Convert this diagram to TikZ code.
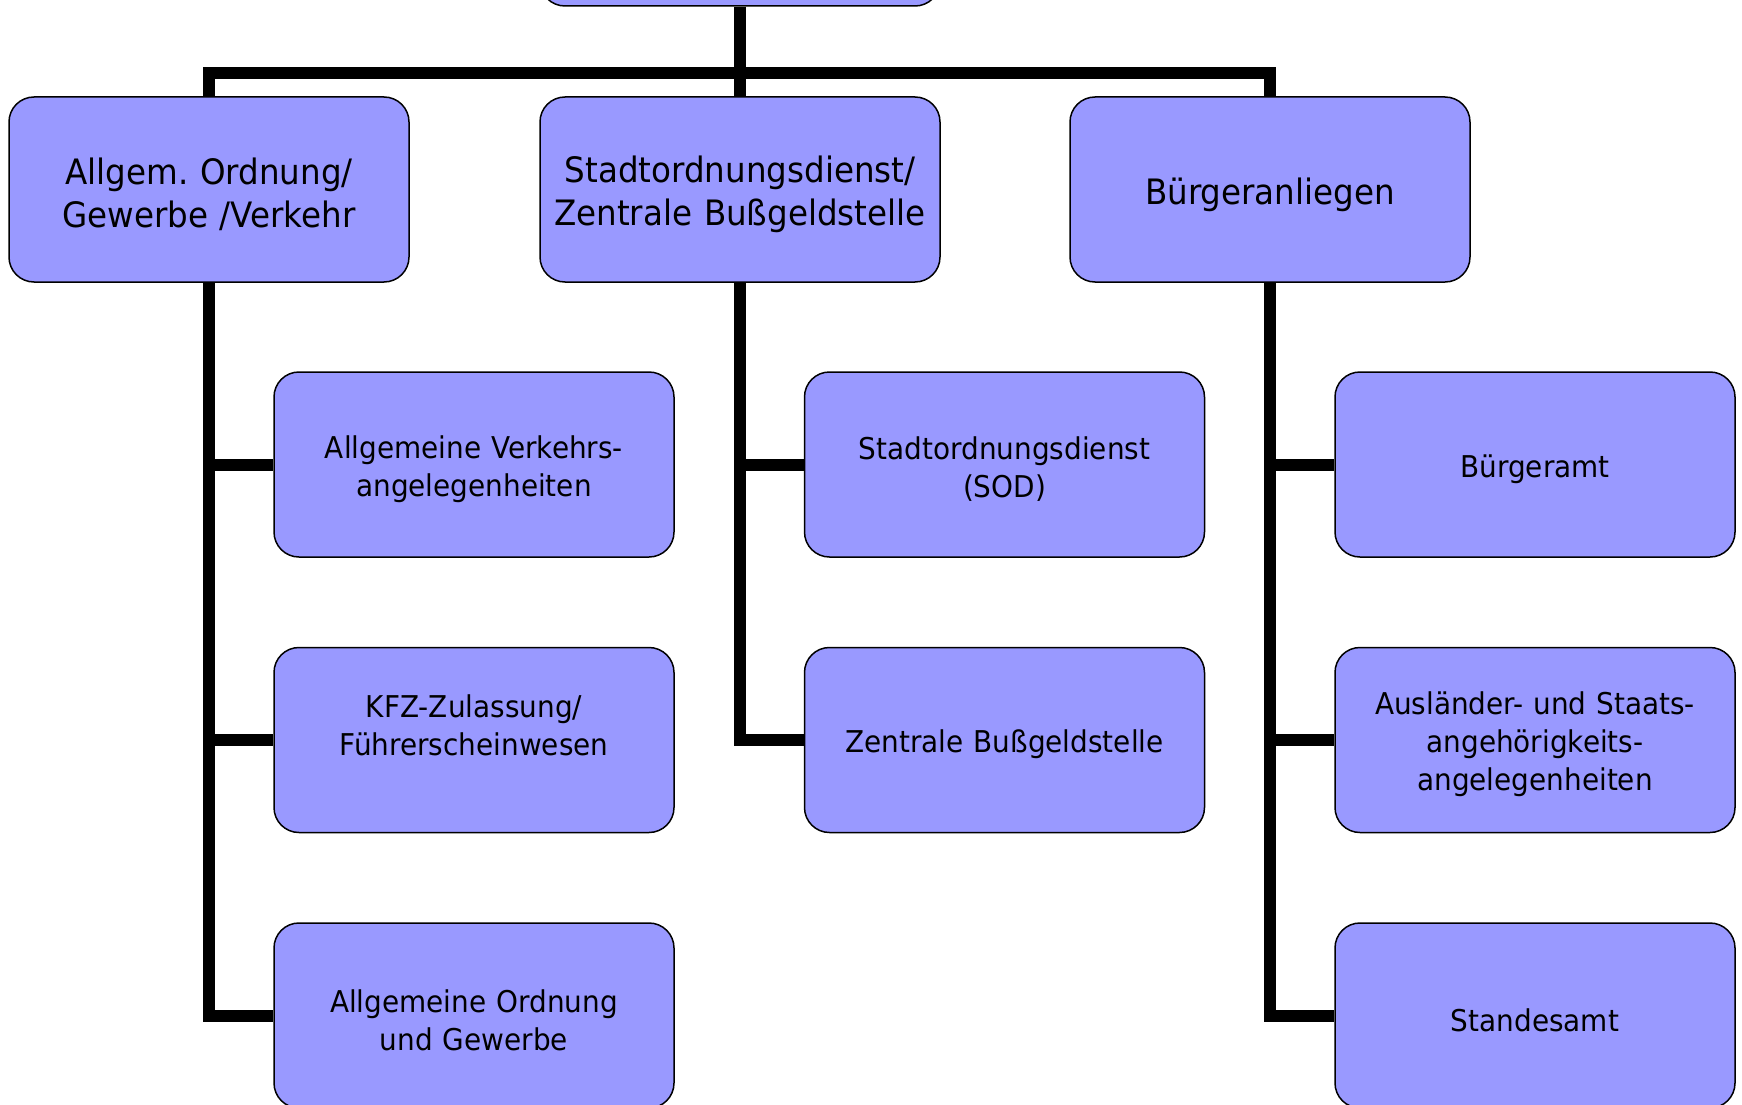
\documentclass[tikz,border=0pt]{standalone}
\usepackage{fontspec}
\setmainfont{DejaVu Sans}[FakeStretch=0.93]
\usetikzlibrary{positioning}

\definecolor{boxblue}{HTML}{9999FF}
\tikzset{
  unit/.style={draw, fill=boxblue, rounded corners=25pt, line width=1.5pt,
    minimum width=400pt, minimum height=185pt, inner sep=2pt,
    align=center, text width=394pt, font=\fontsize{35}{43}\selectfont,
    execute at begin node={\rule{0pt}{1.05em}}},
  subunit/.style={unit, font=\fontsize{30}{38}\selectfont},
  conn/.style={line width=12pt}
}

\begin{document}
\frenchspacing
\begin{tikzpicture}[x=1pt, y=-1pt]
  \clip (0,0) rectangle (1742,1105);

  \node [unit] (top) at (740, -86.5) {};
  \node [unit] (ord) at (209, 189.5) {Allgem. Ordnung/\\Gewerbe /Verkehr};
  \node [unit] (sod) at (740, 189.5) {Stadtordnungsdienst/\\Zentrale Bußgeldstelle};
  \node [unit] (buerger) at (1270, 189.5) {Bürgeranliegen};

  \node [subunit] (verk) at (474, 464.5) {Allgemeine Verkehrs-\\angelegenheiten};
  \node [subunit] (kfz) at (474, 740) {KFZ-Zulassung/\\Führerscheinwesen\\\mbox{}};
  \node [subunit] (ordgew) at (474, 1015.5) {Allgemeine Ordnung\\und Gewerbe};

  \node [subunit] (sodsub) at (1004.5, 464.5) {Stadtordnungsdienst\\(SOD)};
  \node [subunit] (zbs) at (1004.5, 740) {Zentrale Bußgeldstelle};

  \node [subunit] (amt) at (1535, 464.5) {Bürgeramt};
  \node [subunit] (ausl) at (1535, 740) {Ausländer- und Staats-\\angehörigkeits-\\angelegenheiten};
  \node [subunit] (standes) at (1535, 1015.5) {Standesamt};

  \coordinate (bar) at (740, 73);
  \draw [conn] (top.south) -- (bar);
  \draw [conn] (ord.north) |- (bar) -| (buerger.north);
  \draw [conn] (bar) -- (sod.north);

  \foreach \sub in {verk, kfz, ordgew}
    \draw [conn] (ord.south) |- (\sub.west);
  \foreach \sub in {sodsub, zbs}
    \draw [conn] (sod.south) |- (\sub.west);
  \foreach \sub in {amt, ausl, standes}
    \draw [conn] (buerger.south) |- (\sub.west);

\end{tikzpicture}
\end{document}
